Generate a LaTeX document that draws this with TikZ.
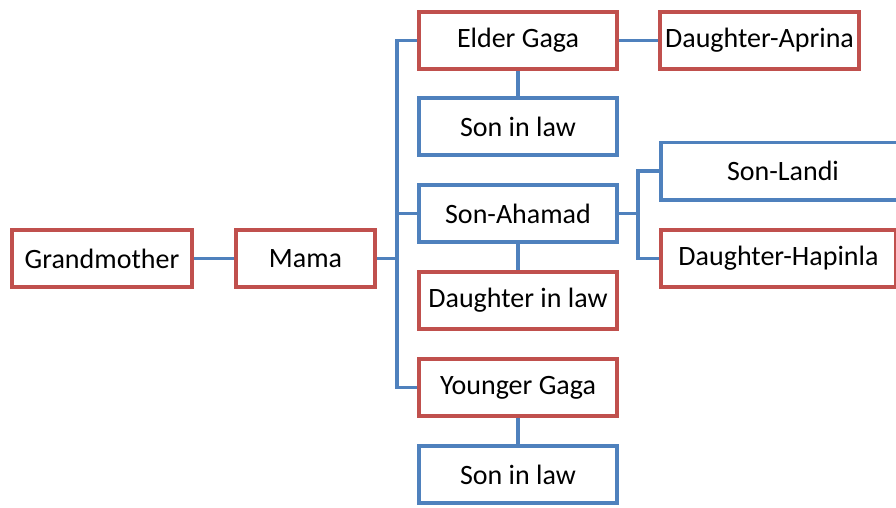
\documentclass[tikz,border=0pt]{standalone}
\usepackage{fontspec}
\setmainfont{Carlito}
\usetikzlibrary{positioning}
\definecolor{famred}{HTML}{C0504D}
\definecolor{famblue}{HTML}{4F81BD}

\begin{document}
\begin{tikzpicture}[
  x=1pt, y=1pt,
  node distance=25pt and 40pt,
  person/.style={draw, line width=3.6pt, fill=white, minimum height=57.4pt,
                 minimum width=198.4pt, inner sep=2pt,
                 font=\fontsize{28}{34}\selectfont},
  female/.style={person, draw=famred},
  male/.style={person, draw=famblue},
  link/.style={famblue, line width=3.6pt},
]
  \useasboundingbox (0,0) rectangle (896,-507);
  % Elders
  \node[female, minimum width=180.4pt] (gm) at (102,-258.5) {Grandmother};
  \node[female, minimum width=139.4pt, right=40pt of gm] (mama) {Mama};
  \draw[link] (gm) -- (mama);

  % Children column
  \node[female] (elder) at (518,-40.5) {Elder Gaga};
  \node[male, below=25pt of elder] (sonlaw1) {Son in law};
  \node[male, below=26pt of sonlaw1] (ahamad) {Son-Ahamad};
  \node[female, below=26pt of ahamad] (dlaw) {Daughter in law};
  \node[female, below=26pt of dlaw] (younger) {Younger Gaga};
  \node[male, below=26pt of younger] (sonlaw2) {Son in law};
  % Trunk
  \draw[link] (mama.east) -- ++(20,0);
  \draw[link] (elder.west) -- ++(-20,0) |- (younger.west);
  \draw[link] (ahamad.west) -- ++(-20,0);
  % Spouses
  \draw[link] (elder) -- (sonlaw1);
  \draw[link] (ahamad) -- (dlaw);
  \draw[link] (younger) -- (sonlaw2);

  % Grandchildren
  \node[female, minimum width=199.4pt, right=39pt of elder] (aprina)
    {Daughter-Aprina};
  \draw[link] (elder) -- (aprina);
  \node[male, minimum width=244.4pt, right=40pt of ahamad, yshift=42.5pt]
    (landi) {Son-Landi};
  \node[female, minimum width=235.4pt, right=40pt of ahamad, yshift=-45pt]
    (hapinla) {Daughter-Hapinla};
  \draw[link] (ahamad.east) -- ++(19,0);
  \draw[link] (landi.west) -- ++(-21,0) |- (hapinla.west);
\end{tikzpicture}
\end{document}
